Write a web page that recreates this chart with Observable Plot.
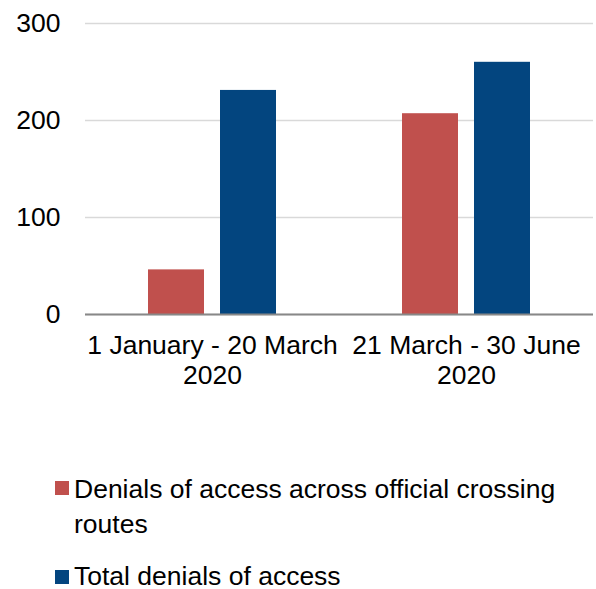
<!DOCTYPE html>
<html>
<head>
<meta charset="utf-8">
<script src="https://cdn.jsdelivr.net/npm/d3@7"></script>
<script src="https://cdn.jsdelivr.net/npm/@observablehq/plot@0.6"></script>
<style>
  html, body { margin: 0; padding: 0; background: #fff; overflow: hidden; }
  #wrap { position: relative; width: 596px; height: 589px; font-family: "Liberation Sans", Arial, sans-serif; }
  .leg { position: absolute; font-size: 26.5px; line-height: 35px; color: #000; }
  .sw { position: absolute; width: 14px; height: 14px; }
</style>
</head>
<body>
<div id="wrap"></div>
<script>
const periods = ["1 January - 20 March 2020", "21 March - 30 June 2020"];
const periodLabels = ["1 January - 20 March\n2020", "21 March - 30 June\n2020"];
const series = ["Denials of access across official crossing routes", "Total denials of access"];
const officialValues = [46, 207];
const totalValues = [231, 260];
const yTicks = [0, 100, 200, 300];
const colors = ["#C0504D", "#03457F"];

const rows = periods.flatMap((p, i) => [
  {period: p, series: series[0], value: officialValues[i]},
  {period: p, series: series[1], value: totalValues[i]}
]);

const chart = Plot.plot({
  width: 596,
  height: 400,
  marginLeft: 85,
  marginRight: 3,
  marginTop: 23,
  marginBottom: 86,
  style: {fontFamily: "'Liberation Sans', Arial, sans-serif", fontSize: "26.5px", color: "#000", background: "white"},
  fx: {domain: periods, padding: 0, label: null, axis: null},
  x: {domain: series, paddingInner: 0.22, paddingOuter: 0.85, axis: null},
  y: {domain: [0, 300], label: null},
  color: {domain: series, range: colors},
  marks: [
    Plot.gridY(yTicks, {stroke: "#d9d9d9", strokeOpacity: 1, strokeWidth: 1.5}),
    Plot.axisY(yTicks, {tickSize: 0, tickPadding: 25, label: null, fontSize: 26.5}),
    Plot.barY(rows, {fx: "period", x: "series", y: "value", fill: "series"}),
    Plot.ruleY([0], {stroke: "#888", strokeWidth: 2}),
    Plot.axisFx({anchor: "bottom", tickSize: 0, tickPadding: 18, label: null, fontSize: 26.5, lineHeight: 1.13,
      tickFormat: d => periodLabels[periods.indexOf(d)]})
  ]
});

const wrap = document.getElementById("wrap");
chart.style.position = "absolute";
chart.style.left = "0px";
chart.style.top = "0px";
wrap.appendChild(chart);

const legendTops = [471.5, 558.5];
const swatchTops = [481, 570];
series.forEach((s, i) => {
  const sw = document.createElement("div");
  sw.className = "sw";
  sw.style.left = "55px";
  sw.style.top = swatchTops[i] + "px";
  sw.style.background = colors[i];
  wrap.appendChild(sw);
  const t = document.createElement("div");
  t.className = "leg";
  t.style.left = "74px";
  t.style.top = legendTops[i] + "px";
  t.style.width = "500px";
  t.textContent = s;
  wrap.appendChild(t);
});
</script>
</body>
</html>
